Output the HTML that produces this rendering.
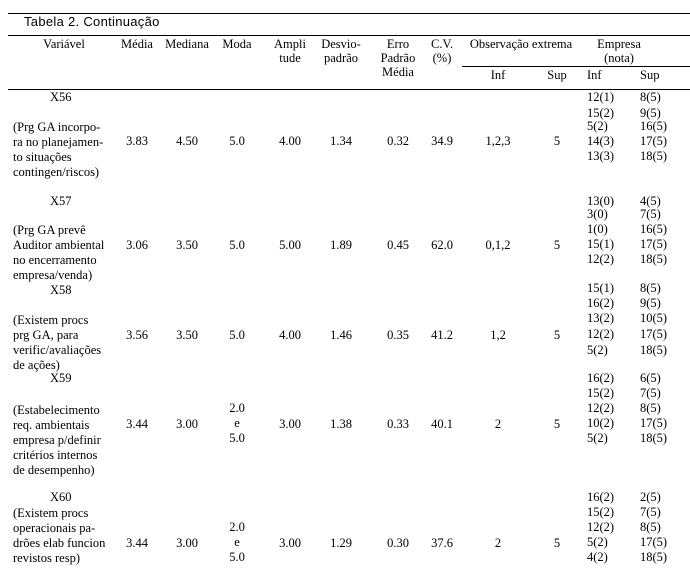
<!DOCTYPE html>
<html><head><meta charset="utf-8"><style>
body{margin:0;width:690px;height:578px;background:#fff;position:relative;overflow:hidden;font-family:"Liberation Serif",serif;font-size:12.5px;color:#000}
div{position:absolute;line-height:14px;white-space:nowrap}
.c{transform:translateX(-50%);text-align:center}
.l{background:#000;height:1px}
.cap{font-family:"Liberation Sans",sans-serif;font-size:13px;letter-spacing:0.3px}
</style></head><body>
<div class="l" style="left:8px;top:13px;width:682px"></div>
<div class="cap" style="left:24px;top:15px">Tabela 2. Continuação</div>
<div class="l" style="left:8px;top:35px;width:682px"></div>
<div class="c" style="left:64px;top:37px">Variável</div>
<div class="c" style="left:137px;top:37px">Média</div>
<div class="c" style="left:187px;top:37px">Mediana</div>
<div class="c" style="left:237px;top:37px">Moda</div>
<div class="c" style="left:290px;top:37px">Ampli<br>tude</div>
<div class="c" style="left:341px;top:37px">Desvio-<br>padrão</div>
<div class="c" style="left:398px;top:37px">Erro<br>Padrão<br>Média</div>
<div class="c" style="left:442px;top:37px">C.V.<br>(%)</div>
<div class="c" style="left:521px;top:37px">Observação extrema</div>
<div class="c" style="left:619px;top:37px">Empresa<br>(nota)</div>
<div class="l" style="left:462px;top:66px;width:228px"></div>
<div class="c" style="left:498px;top:68px">Inf</div>
<div class="c" style="left:557px;top:68px">Sup</div>
<div style="left:587px;top:68px">Inf</div>
<div style="left:640px;top:68px">Sup</div>
<div class="l" style="left:8px;top:89px;width:682px"></div>

<div style="left:50px;top:90px">X56</div>
<div style="left:13px;top:120px;line-height:15px">(Prg GA incorpo-<br>ra no planejamen-<br>to situações<br>contingen/riscos)</div>
<div class="c" style="left:137px;top:134px">3.83</div>
<div class="c" style="left:187px;top:134px">4.50</div>
<div class="c" style="left:237px;top:134px">5.0</div>
<div class="c" style="left:290px;top:134px">4.00</div>
<div class="c" style="left:341px;top:134px">1.34</div>
<div class="c" style="left:398px;top:134px">0.32</div>
<div class="c" style="left:442px;top:134px">34.9</div>
<div class="c" style="left:498px;top:134px">1,2,3</div>
<div class="c" style="left:557px;top:134px">5</div>
<div style="left:587px;top:90px">12(1)</div><div style="left:640px;top:90px">8(5)</div>
<div style="left:587px;top:106px">15(2)</div><div style="left:640px;top:106px">9(5)</div>
<div style="left:587px;top:119px">5(2)</div><div style="left:640px;top:119px">16(5)</div>
<div style="left:587px;top:134px">14(3)</div><div style="left:640px;top:134px">17(5)</div>
<div style="left:587px;top:149px">13(3)</div><div style="left:640px;top:149px">18(5)</div>

<div style="left:50px;top:194px">X57</div>
<div style="left:13px;top:223px;line-height:15px">(Prg GA prevê<br>Auditor ambiental<br>no encerramento<br>empresa/venda)</div>
<div class="c" style="left:137px;top:238px">3.06</div>
<div class="c" style="left:187px;top:238px">3.50</div>
<div class="c" style="left:237px;top:238px">5.0</div>
<div class="c" style="left:290px;top:238px">5.00</div>
<div class="c" style="left:341px;top:238px">1.89</div>
<div class="c" style="left:398px;top:238px">0.45</div>
<div class="c" style="left:442px;top:238px">62.0</div>
<div class="c" style="left:498px;top:238px">0,1,2</div>
<div class="c" style="left:557px;top:238px">5</div>
<div style="left:587px;top:194px">13(0)</div><div style="left:640px;top:194px">4(5)</div>
<div style="left:587px;top:207px">3(0)</div><div style="left:640px;top:207px">7(5)</div>
<div style="left:587px;top:222px">1(0)</div><div style="left:640px;top:222px">16(5)</div>
<div style="left:587px;top:237px">15(1)</div><div style="left:640px;top:237px">17(5)</div>
<div style="left:587px;top:252px">12(2)</div><div style="left:640px;top:252px">18(5)</div>

<div style="left:50px;top:283px">X58</div>
<div style="left:13px;top:313px;line-height:15px">(Existem procs<br>prg GA, para<br>verific/avaliações<br>de ações)</div>
<div class="c" style="left:137px;top:328px">3.56</div>
<div class="c" style="left:187px;top:328px">3.50</div>
<div class="c" style="left:237px;top:328px">5.0</div>
<div class="c" style="left:290px;top:328px">4.00</div>
<div class="c" style="left:341px;top:328px">1.46</div>
<div class="c" style="left:398px;top:328px">0.35</div>
<div class="c" style="left:442px;top:328px">41.2</div>
<div class="c" style="left:498px;top:328px">1,2</div>
<div class="c" style="left:557px;top:328px">5</div>
<div style="left:587px;top:281px">15(1)</div><div style="left:640px;top:281px">8(5)</div>
<div style="left:587px;top:296px">16(2)</div><div style="left:640px;top:296px">9(5)</div>
<div style="left:587px;top:311px">13(2)</div><div style="left:640px;top:311px">10(5)</div>
<div style="left:587px;top:327px">12(2)</div><div style="left:640px;top:327px">17(5)</div>
<div style="left:587px;top:343px">5(2)</div><div style="left:640px;top:343px">18(5)</div>

<div style="left:50px;top:371px">X59</div>
<div style="left:13px;top:403px;line-height:15px">(Estabelecimento<br>req. ambientais<br>empresa p/definir<br>critérios internos<br>de desempenho)</div>
<div class="c" style="left:137px;top:417px">3.44</div>
<div class="c" style="left:187px;top:417px">3.00</div>
<div class="c" style="left:237px;top:401px;line-height:15px">2.0<br>e<br>5.0</div>
<div class="c" style="left:290px;top:417px">3.00</div>
<div class="c" style="left:341px;top:417px">1.38</div>
<div class="c" style="left:398px;top:417px">0.33</div>
<div class="c" style="left:442px;top:417px">40.1</div>
<div class="c" style="left:498px;top:417px">2</div>
<div class="c" style="left:557px;top:417px">5</div>
<div style="left:587px;top:371px">16(2)</div><div style="left:640px;top:371px">6(5)</div>
<div style="left:587px;top:386px">15(2)</div><div style="left:640px;top:386px">7(5)</div>
<div style="left:587px;top:401px">12(2)</div><div style="left:640px;top:401px">8(5)</div>
<div style="left:587px;top:416px">10(2)</div><div style="left:640px;top:416px">17(5)</div>
<div style="left:587px;top:431px">5(2)</div><div style="left:640px;top:431px">18(5)</div>

<div style="left:50px;top:490px">X60</div>
<div style="left:13px;top:506px;line-height:15px">(Existem procs<br>operacionais pa-<br>drões elab funcion<br>revistos resp)</div>
<div class="c" style="left:137px;top:536px">3.44</div>
<div class="c" style="left:187px;top:536px">3.00</div>
<div class="c" style="left:237px;top:520px;line-height:15px">2.0<br>e<br>5.0</div>
<div class="c" style="left:290px;top:536px">3.00</div>
<div class="c" style="left:341px;top:536px">1.29</div>
<div class="c" style="left:398px;top:536px">0.30</div>
<div class="c" style="left:442px;top:536px">37.6</div>
<div class="c" style="left:498px;top:536px">2</div>
<div class="c" style="left:557px;top:536px">5</div>
<div style="left:587px;top:490px">16(2)</div><div style="left:640px;top:490px">2(5)</div>
<div style="left:587px;top:505px">15(2)</div><div style="left:640px;top:505px">7(5)</div>
<div style="left:587px;top:520px">12(2)</div><div style="left:640px;top:520px">8(5)</div>
<div style="left:587px;top:535px">5(2)</div><div style="left:640px;top:535px">17(5)</div>
<div style="left:587px;top:550px">4(2)</div><div style="left:640px;top:550px">18(5)</div>
</body></html>
